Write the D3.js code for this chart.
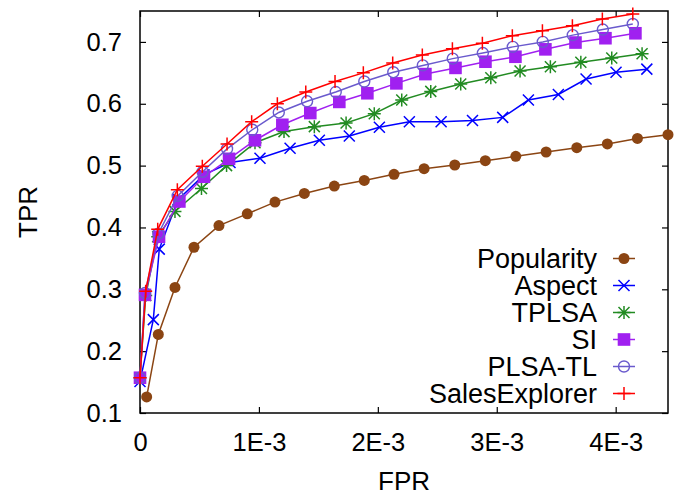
<!DOCTYPE html>
<meta charset="utf-8">
<style>
body { margin: 0; background: #fff; }
text { font-family: "Liberation Sans", Arial, sans-serif; fill: #000; }
.axis path { display: none; }
.axis line { stroke: #000; stroke-width: 1.2; }
.frame { fill: none; stroke: #000; stroke-width: 1.5; }
</style>
<svg width="686" height="495"></svg>
<script src="https://d3js.org/d3.v7.min.js"></script>
<script>
// series data (FPR in units of 1E-3, TPR)
var names = ["Popularity", "Aspect", "TPLSA", "SI", "PLSA-TL", "SalesExplorer"];
var colors = ["#8b4513", "#0000ff", "#228b22", "#a020f0", "#6a5acd", "#ff0000"];
var shapes = ["dot", "x", "star", "square", "ring", "plus"];

var popX = [0.056, 0.154, 0.294, 0.454, 0.664, 0.902, 1.135, 1.382, 1.634, 1.886, 2.136, 2.389, 2.647, 2.904, 3.160, 3.415, 3.673, 3.930, 4.183, 4.440];
var popY = [0.126, 0.227, 0.303, 0.368, 0.403, 0.422, 0.441, 0.455, 0.467, 0.476, 0.486, 0.495, 0.501, 0.508, 0.515, 0.522, 0.529, 0.535, 0.544, 0.550];

var aspX = [0, 0.112, 0.162, 0.320, 0.538, 0.757, 1.009, 1.262, 1.508, 1.760, 2.013, 2.265, 2.532, 2.796, 3.050, 3.266, 3.518, 3.751, 4.003, 4.262];
var aspY = [0.151, 0.251, 0.365, 0.445, 0.485, 0.505, 0.512, 0.528, 0.541, 0.548, 0.562, 0.571, 0.571, 0.573, 0.578, 0.606, 0.615, 0.640, 0.651, 0.656];

var tplX = [0, 0.048, 0.149, 0.294, 0.517, 0.728, 0.967, 1.211, 1.466, 1.733, 1.970, 2.201, 2.445, 2.697, 2.950, 3.196, 3.451, 3.707, 3.967, 4.222];
var tplY = [0.157, 0.290, 0.385, 0.426, 0.463, 0.500, 0.537, 0.555, 0.563, 0.569, 0.584, 0.606, 0.620, 0.632, 0.642, 0.653, 0.660, 0.667, 0.674, 0.681];

var siX = [0, 0.042, 0.160, 0.331, 0.538, 0.749, 0.967, 1.197, 1.432, 1.676, 1.912, 2.156, 2.400, 2.653, 2.905, 3.157, 3.409, 3.662, 3.914, 4.166];
var siY = [0.157, 0.291, 0.385, 0.442, 0.482, 0.511, 0.541, 0.566, 0.585, 0.603, 0.617, 0.633, 0.648, 0.658, 0.668, 0.676, 0.688, 0.699, 0.706, 0.714];

var plsX = [0, 0.042, 0.154, 0.317, 0.526, 0.732, 0.944, 1.167, 1.405, 1.646, 1.886, 2.130, 2.378, 2.630, 2.883, 3.135, 3.387, 3.639, 3.892, 4.144];
var plsY = [0.157, 0.294, 0.390, 0.451, 0.490, 0.527, 0.558, 0.586, 0.604, 0.619, 0.636, 0.651, 0.662, 0.673, 0.682, 0.692, 0.700, 0.711, 0.720, 0.729];

var salX = [0, 0.048, 0.149, 0.314, 0.524, 0.732, 0.939, 1.155, 1.394, 1.640, 1.878, 2.125, 2.374, 2.627, 2.879, 3.131, 3.384, 3.636, 3.888, 4.144];
var salY = [0.157, 0.297, 0.397, 0.461, 0.499, 0.535, 0.571, 0.600, 0.619, 0.636, 0.650, 0.666, 0.679, 0.689, 0.698, 0.710, 0.718, 0.726, 0.737, 0.745];

var xTicks = [0, 1, 2, 3, 4];
var xTickLabels = ["0", "1E-3", "2E-3", "3E-3", "4E-3"];
var yTicks = [0.1, 0.2, 0.3, 0.4, 0.5, 0.6, 0.7];

var seriesX = [popX, aspX, tplX, siX, plsX, salX];
var seriesY = [popY, aspY, tplY, siY, plsY, salY];

var svg = d3.select("svg"),
    margin = {top: 11, right: 18, bottom: 82, left: 140},
    width = +svg.attr("width") - margin.left - margin.right,
    height = +svg.attr("height") - margin.top - margin.bottom;

var x = d3.scaleLinear().domain([0, 4.44]).range([0, width]),
    y = d3.scaleLinear().domain([0.1, 0.75]).range([height, 0]);

var g = svg.append("g")
    .attr("transform", "translate(" + margin.left + "," + margin.top + ")");

// axes, ticks pointing inward, mirrored on top/right
g.append("g")
    .attr("class", "axis")
    .attr("transform", "translate(0," + height + ")")
    .call(d3.axisBottom(x).tickValues(xTicks).tickSize(-6).tickPadding(20)
      .tickFormat(function(d, i) { return xTickLabels[i]; }))
  .selectAll("text").style("font-size", "25.5px");
g.append("g")
    .attr("class", "axis")
    .call(d3.axisTop(x).tickValues(xTicks).tickSize(-6).tickFormat(""));
g.append("g")
    .attr("class", "axis")
    .call(d3.axisLeft(y).tickValues(yTicks).tickSize(-6).tickPadding(18)
      .tickFormat(d3.format(".1f")))
  .selectAll("text").style("font-size", "25.5px");
g.append("g")
    .attr("class", "axis")
    .attr("transform", "translate(" + width + ",0)")
    .call(d3.axisRight(y).tickValues(yTicks).tickSize(-6).tickFormat(""));

g.append("rect").attr("class", "frame")
    .attr("width", width).attr("height", height);

svg.append("text")
    .attr("x", margin.left + width / 2).attr("y", 490)
    .attr("text-anchor", "middle").style("font-size", "26px")
    .text("FPR");
svg.append("text")
    .attr("transform", "translate(37," + (margin.top + height / 2) + ") rotate(-90)")
    .attr("text-anchor", "middle").style("font-size", "26px")
    .text("TPR");

function marker(sel, shape, color) {
  if (shape == "dot") {
    sel.append("circle").attr("r", 5.5).attr("fill", color);
  } else if (shape == "square") {
    sel.append("rect").attr("x", -6.3).attr("y", -6.3).attr("width", 12.6).attr("height", 12.6).attr("fill", color);
  } else if (shape == "ring") {
    sel.append("circle").attr("r", 5.5).attr("fill", "none").attr("stroke", color).attr("stroke-width", 1.4);
  } else {
    var p = "";
    if (shape == "plus" || shape == "star") p += "M-6.5,0H6.5M0,-6.5V6.5";
    if (shape == "x" || shape == "star") p += "M-5.5,-5.5L5.5,5.5M-5.5,5.5L5.5,-5.5";
    sel.append("path").attr("d", p).attr("fill", "none").attr("stroke", color).attr("stroke-width", 1.5);
  }
}

var line = d3.line()
    .x(function(d) { return x(d[0]); })
    .y(function(d) { return y(d[1]); });

names.forEach(function(name, i) {
  var pts = seriesX[i].map(function(v, j) { return [v, seriesY[i][j]]; });
  g.append("path")
      .datum(pts)
      .attr("fill", "none")
      .attr("stroke", colors[i])
      .attr("stroke-width", 1.5)
      .attr("d", line);
  g.selectAll(".pt" + i)
    .data(pts)
    .enter().append("g")
      .attr("class", "pt" + i)
      .attr("transform", function(d) { return "translate(" + x(d[0]) + "," + y(d[1]) + ")"; })
      .each(function() { marker(d3.select(this), shapes[i], colors[i]); });
});

// legend
var legend = svg.append("g");
names.forEach(function(name, i) {
  var cy = 258.5 + i * 27;
  legend.append("text")
      .attr("x", 597).attr("y", cy).attr("dy", "0.35em")
      .attr("text-anchor", "end").style("font-size", "27px")
      .text(name);
  legend.append("line")
      .attr("x1", 613).attr("x2", 635).attr("y1", cy).attr("y2", cy)
      .attr("stroke", colors[i]).attr("stroke-width", 1.5);
  marker(legend.append("g").attr("transform", "translate(624," + cy + ")"), shapes[i], colors[i]);
});
</script>
